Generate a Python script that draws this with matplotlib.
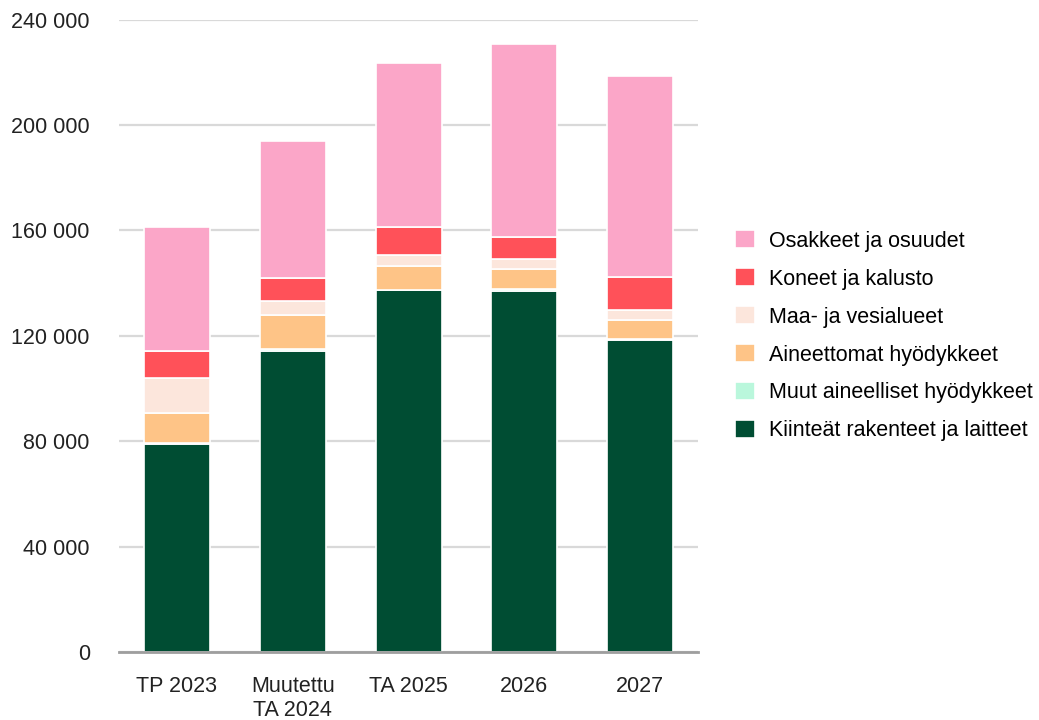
import matplotlib.pyplot as plt
import numpy as np

# Data
categories = ["TP 2023", "Muutettu\nTA 2024", "TA 2025", "2026", "2027"]

kiinteat = [78.8, 114.3, 137.3, 137.0, 118.5]
muut = [0.5, 0.8, 0.2, 0.6, 0.4]
aineettomat = [11.3, 12.7, 9.0, 7.7, 6.9]
maa = [13.2, 5.5, 4.0, 4.0, 3.8]
koneet = [10.5, 8.5, 10.6, 8.0, 12.8]
osakkeet = [46.9, 52.0, 62.4, 73.4, 76.3]

series = [
    ("Kiinteät rakenteet ja laitteet", kiinteat, "#004d33"),
    ("Muut aineelliset hyödykkeet", muut, "#baf7dc"),
    ("Aineettomat hyödykkeet", aineettomat, "#fec487"),
    ("Maa- ja vesialueet", maa, "#fce6dc"),
    ("Koneet ja kalusto", koneet, "#ff5159"),
    ("Osakkeet ja osuudet", osakkeet, "#fba6c8"),
]

plt.rcParams["font.family"] = ["Liberation Sans", "DejaVu Sans"]

fig = plt.figure(figsize=(10.39, 7.2), dpi=100)
ax = fig.add_axes([0.1145, 0.0944, 0.5575, 0.8785])

x = np.arange(len(categories))
bottom = np.zeros(len(categories))
handles = []
for name, vals, color in series:
    v = np.array(vals) * 1000
    b = ax.bar(x, v, width=0.57, bottom=bottom, color=color,
               edgecolor="white", linewidth=1.2, label=name, zorder=3)
    handles.append(b)
    bottom += v

ax.set_xlim(-0.5, 4.5)
ax.set_ylim(0, 240000)
ax.set_yticks(np.arange(0, 240001, 40000))
ax.set_yticklabels([f"{int(t):,}".replace(",", " ") for t in np.arange(0, 240001, 40000)])
ax.set_xticks(x)
ax.set_xticklabels(categories)

ax.grid(axis="y", color="#d9d9d9", linewidth=1.6, zorder=0)
ax.set_axisbelow(True)
for s in ["top", "right", "left"]:
    ax.spines[s].set_visible(False)
ax.spines["bottom"].set_color("#9e9e9e")
ax.spines["bottom"].set_linewidth(2)
ax.spines["bottom"].set_zorder(4)

ax.tick_params(axis="y", length=0, pad=21, labelsize=15.5, colors="#222222")
ax.tick_params(axis="x", length=0, pad=17, labelsize=15.5, colors="#222222")

leg = ax.legend(handles[::-1], [s[0] for s in series][::-1],
                loc="center left", bbox_to_anchor=(1.03, 0.5),
                frameon=False, fontsize=15.5, handlelength=0.93,
                handleheight=0.93, handletextpad=0.65, labelspacing=0.76)

plt.savefig("out.png", dpi=100, facecolor="white")
